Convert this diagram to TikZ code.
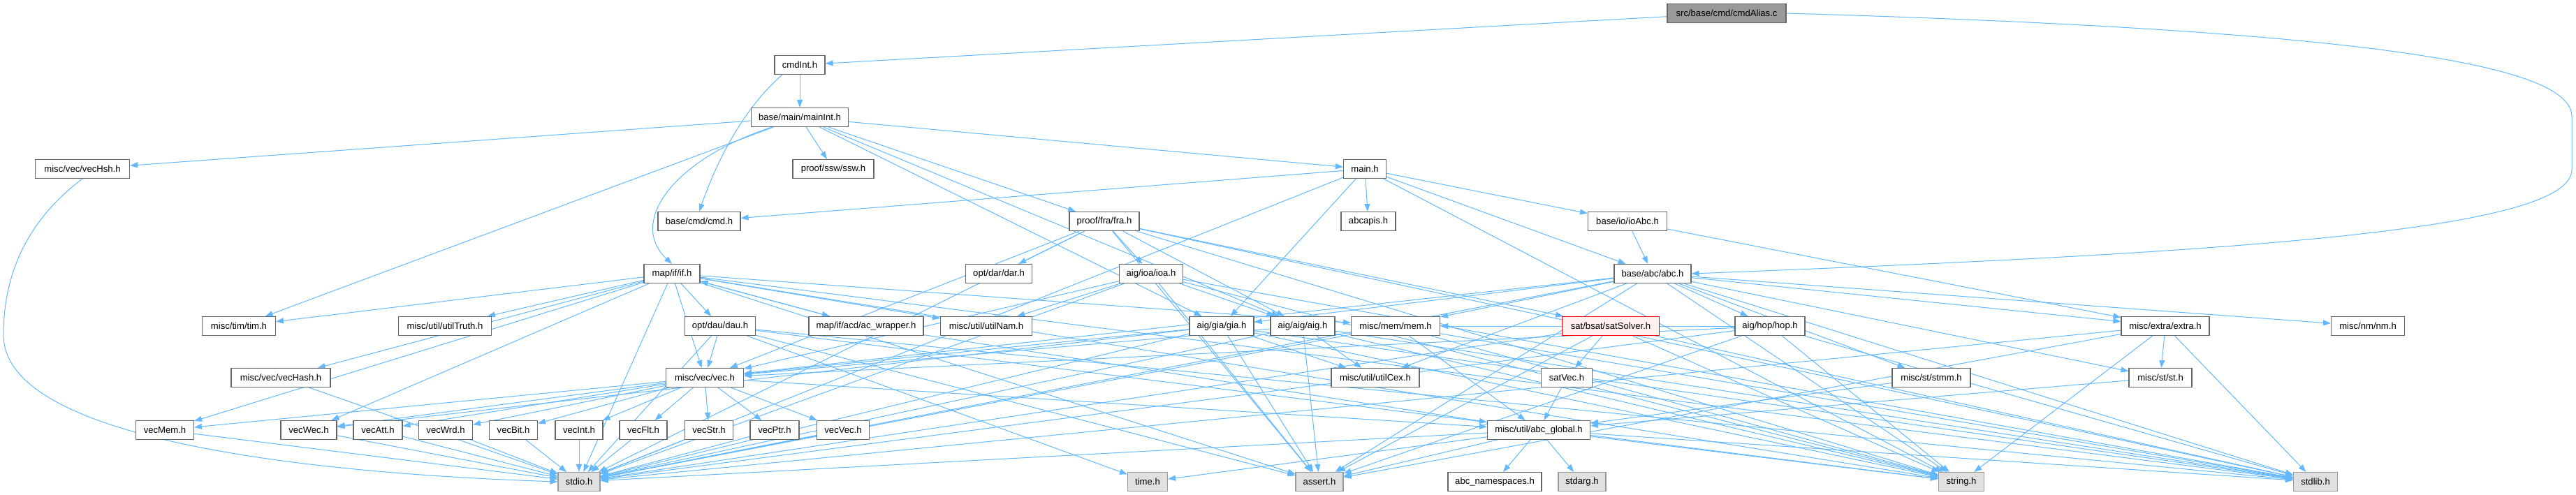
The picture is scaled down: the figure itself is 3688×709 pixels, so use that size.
\documentclass[tikz,border=0pt]{standalone}
\usepackage{fontspec}
\setmainfont{Liberation Sans}
\usetikzlibrary{arrows.meta}
\pgfdeclarelayer{bg}
\pgfsetlayers{bg,main}
\definecolor{edgec}{HTML}{63B8FF}
\definecolor{boxb}{HTML}{666666}
\definecolor{sysf}{HTML}{E0E0E0}
\definecolor{sysb}{HTML}{999999}
\definecolor{rootf}{HTML}{999999}
\definecolor{redf}{HTML}{FFF0F0}
\definecolor{redb}{HTML}{FF0000}
\newcommand\nd[6][box]{\node[#1,minimum width=#5pt] (#2) at (#3,#4) {#6};}
\newcommand\fan[2]{\foreach \t in {#2} {\draw[edge] (#1) -- (\t);}}
\begin{document}
\begin{tikzpicture}[x=1pt,y=-1pt,
  box/.style={draw=boxb, fill=white, line width=1.1pt, minimum height=27pt, inner sep=0pt, font=\fontsize{13.1}{15}\selectfont},
  sys/.style={box, fill=sysf, draw=sysb},
  rootbox/.style={box, fill=rootf, draw=boxb},
  redbox/.style={box, fill=redf, draw=redb},
  edge/.style={draw=edgec, line width=1pt, -{Triangle[length=11pt,width=8pt]}}]
\useasboundingbox (0,0) rectangle (3688,709);
% row 0
\nd[rootbox]{root}{2472}{19}{170}{src/base/cmd/cmdAlias.c}
% row 1
\nd{cmdInt}{1145}{93}{72}{cmdInt.h}
% row 2
\nd{mainInt}{1145}{168}{139}{base/main/mainInt.h}
% row 3
\nd{vecHsh}{118}{242}{135}{misc/vec/vecHsh.h}
\nd{ssw}{1193}{242}{116}{proof/ssw/ssw.h}
\nd{main}{1954}{242}{61}{main.h}
% row 4
\nd{cmd}{1001}{317}{118}{base/cmd/cmd.h}
\nd{fra}{1581}{317}{100}{proof/fra/fra.h}
\nd{abcapis}{1959}{317}{78}{abcapis.h}
\nd{ioAbc}{2330}{317}{113}{base/io/ioAbc.h}
% row 5
\nd{if}{962}{392}{80}{map/if/if.h}
\nd{dar}{1430}{392}{95}{opt/dar/dar.h}
\nd{ioa}{1648}{392}{91}{aig/ioa/ioa.h}
\nd{abc}{2366}{392}{110}{base/abc/abc.h}
% row 6
\nd{tim}{342}{467}{105}{misc/tim/tim.h}
\nd{utilTruth}{637}{467}{133}{misc/util/utilTruth.h}
\nd{dau}{1031}{467}{101}{opt/dau/dau.h}
\nd{acw}{1240}{467}{164}{map/if/acd/ac\_wrapper.h}
\nd{utilNam}{1412}{467}{131}{misc/util/utilNam.h}
\nd{gia}{1749}{467}{92}{aig/gia/gia.h}
\nd{aig}{1865}{467}{92}{aig/aig/aig.h}
\nd{mem}{1998}{467}{127}{misc/mem/mem.h}
\nd[redbox]{satSolver}{2306}{467}{139}{sat/bsat/satSolver.h}
\nd{hop}{2534}{467}{100}{aig/hop/hop.h}
\nd{extra}{3100}{467}{126}{misc/extra/extra.h}
\nd{nm}{3390}{467}{105}{misc/nm/nm.h}
% row 7
\nd{vecHash}{402}{541}{142}{misc/vec/vecHash.h}
\nd{vec}{1009}{541}{111}{misc/vec/vec.h}
\nd{utilCex}{1969}{541}{126}{misc/util/utilCex.h}
\nd{satVec}{2243}{541}{73}{satVec.h}
\nd{stmm}{2765}{541}{112}{misc/st/stmm.h}
\nd{st}{3093}{541}{90}{misc/st/st.h}
% row 8
\nd{vecMem}{236}{616}{83}{vecMem.h}
\nd{vecWec}{442}{616}{80}{vecWec.h}
\nd{vecAtt}{541}{616}{70}{vecAtt.h}
\nd{vecWrd}{638}{616}{77}{vecWrd.h}
\nd{vecBit}{735}{616}{69}{vecBit.h}
\nd{vecInt}{829}{616}{68}{vecInt.h}
\nd{vecFlt}{921}{616}{68}{vecFlt.h}
\nd{vecStr}{1015}{616}{69}{vecStr.h}
\nd{vecPtr}{1109}{616}{70}{vecPtr.h}
\nd{vecVec}{1207}{616}{75}{vecVec.h}
\nd{abcglobal}{2203}{616}{147}{misc/util/abc\_global.h}
% row 9
\nd[sys]{stdio}{829}{690}{60}{stdio.h}
\nd[sys]{time}{1643}{690}{57}{time.h}
\nd[sys]{assert}{1889}{690}{68}{assert.h}
\nd{abcns}{2140}{690}{134}{abc\_namespaces.h}
\nd[sys]{stdarg}{2265}{690}{68}{stdarg.h}
\nd[sys]{string}{2808}{690}{65}{string.h}
\nd[sys]{stdlib}{3315}{690}{63}{stdlib.h}

\begin{pgfonlayer}{bg}
\draw[edge] (root) -- (cmdInt);
\draw[edge] (root.east) .. controls (3450,45) and (3682,100) .. (3682,167) -- (3682,243) .. controls (3682,330) and (3200,362) .. (abc.east);
\draw[edge] (cmdInt) -- (mainInt);
\draw[edge] ([xshift=-25pt]cmdInt.south) .. controls (1070,150) and (1030,220) .. (cmd.north);
\draw[edge] ([xshift=-40pt]mainInt.south) .. controls (960,230) and (900,320) .. (if.north);
\fan{mainInt}{main,tim,aig,gia,ssw,fra,vecHsh}
\fan{main}{abc,gia,abcapis,cmd,ioAbc,stdio,string}
\fan{ioAbc}{abc,extra}
\fan{fra}{vec,aig,dar,satSolver,ioa,stdio,stdlib,string,assert}
\fan{ioa}{vec,aig,utilNam,stdio,stdlib,string,assert}
\fan{abc}{vec,hop,gia,st,stmm,nm,mem,utilCex,extra,stdio,stdlib,string,assert}
\fan{if}{stdio,stdlib,string,assert,vec,mem,tim,utilNam,vecMem,utilTruth,dau,vecHash,vecWec,acw}
\fan{acw}{if,abcglobal}
\fan{dau}{stdio,stdlib,string,assert,time,vec}
\fan{gia}{vec,vecWec,utilCex,stdio,stdlib,string,assert}
\fan{aig}{vec,utilCex,stdio,stdlib,string,assert}
\fan{mem}{abcglobal,stdio,stdlib,string}
\fan{satSolver}{satVec,stdio,stdlib,string,assert}
\fan{satVec}{abcglobal}
\fan{hop}{vec,stdio,stdlib,string,assert,mem}
\fan{extra}{st,stdio,stdlib,string,assert}
\fan{st}{abcglobal}
\fan{stmm}{abcglobal}
\fan{vec}{vecInt,vecFlt,vecStr,vecPtr,vecVec,vecAtt,vecWrd,vecBit,vecMem,vecWec,abcglobal}
\fan{vecMem}{stdio}
\fan{vecWec}{stdio}
\fan{vecAtt}{stdio}
\fan{vecWrd}{stdio}
\fan{vecBit}{stdio}
\fan{vecInt}{stdio}
\fan{vecFlt}{stdio}
\fan{vecStr}{stdio}
\fan{vecPtr}{stdio}
\fan{vecVec}{stdio}
\fan{vecHash}{stdio}
\draw[edge] (vecHsh.south) .. controls (20,330) and (5,420) .. (5,480) .. controls (5,640) and (500,680) .. (stdio.west);
\fan{abcglobal}{stdio,time,assert,abcns,stdarg,string,stdlib}
\end{pgfonlayer}
\end{tikzpicture}
\end{document}
